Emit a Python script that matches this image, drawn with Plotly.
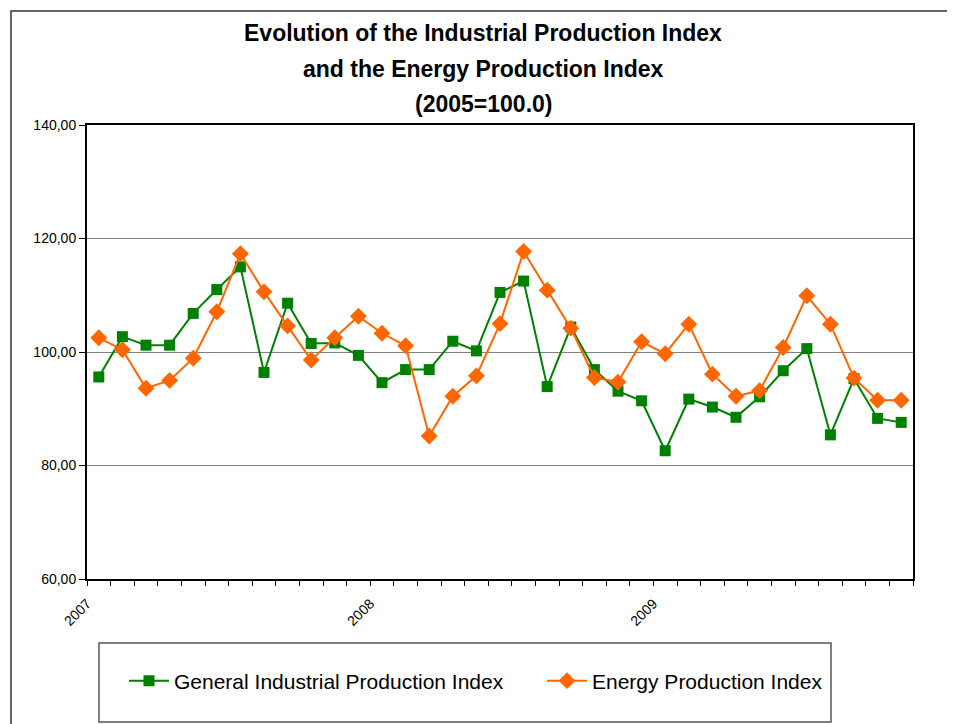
import plotly.graph_objects as go

months = [f"{y}-{m:02d}" for y in (2007, 2008, 2009) for m in range(1, 13)][:35]

general_index = [95.6, 102.7, 101.2, 101.2, 106.8, 111.0, 115.0, 96.4, 108.6, 101.5, 101.6, 99.4,
                 94.6, 96.9, 96.9, 101.9, 100.2, 110.5, 112.5, 93.9, 104.4, 96.9, 93.1, 91.4,
                 82.6, 91.7, 90.3, 88.5, 92.1, 96.7, 100.6, 85.4, 95.3, 88.3, 87.6]

energy_index = [102.5, 100.4, 93.6, 95.0, 98.9, 107.1, 117.3, 110.6, 104.6, 98.6, 102.5, 106.3,
                103.3, 101.1, 85.2, 92.2, 95.8, 105.0, 117.7, 110.9, 104.2, 95.5, 94.7, 101.8,
                99.7, 104.9, 96.1, 92.2, 93.2, 100.8, 109.9, 104.9, 95.4, 91.5, 91.5]

year_labels = ["2007", "2008", "2009"]
year_positions = [-0.5, 11.5, 23.5]

title_lines = ["Evolution of the Industrial Production Index",
               "and the Energy Production Index",
               "(2005=100.0)"]

x_idx = list(range(len(months)))

fig = go.Figure()
fig.add_trace(go.Scatter(
    x=x_idx, y=general_index, mode="lines+markers",
    name="General Industrial Production Index",
    line=dict(color="#008000", width=2),
    marker=dict(symbol="square", size=11, color="#008000"),
    customdata=months, legend="legend",
))
fig.add_trace(go.Scatter(
    x=x_idx, y=energy_index, mode="lines+markers",
    name="Energy Production Index",
    line=dict(color="#FF6600", width=2),
    marker=dict(symbol="diamond", size=13, color="#FF6600"),
    customdata=months, legend="legend2",
))

# page body has an 8px margin; work in reference-pixel coordinates and shift
OFF = 8
W, H = 955 - OFF, 724 - OFF
L, T = 87 - OFF, 125 - OFF
R = W - (913 - OFF)
B = H - (579 - OFF)
pw, ph = W - L - R, H - T - B

def px_x(px):
    return (px - OFF - L) / pw

def px_y(py):
    return (H - B - (py - OFF)) / ph

legend_common = dict(
    orientation="h", xanchor="left",
    y=px_y(681), yanchor="middle",
    font=dict(size=21, color="black"),
    bgcolor="rgba(0,0,0,0)", borderwidth=0, itemwidth=40,
)

fig.update_layout(
    width=W, height=H,
    margin=dict(l=L, r=R, t=T, b=B),
    paper_bgcolor="white", plot_bgcolor="white",
    separators=",.",
    font=dict(family="Arial, Liberation Sans, sans-serif", color="black"),
    showlegend=True,
    legend=dict(x=px_x(124), **legend_common),
    legend2=dict(x=px_x(542), **legend_common),
    xaxis=dict(
        range=[-0.5, len(months) - 0.5],
        tickmode="array", tickvals=year_positions, ticktext=year_labels,
        tickangle=-45, ticks="outside", ticklen=5, tickcolor="black",
        tickfont=dict(size=14), ticklabelstandoff=4,
        minor=dict(tickmode="linear", tick0=-0.5, dtick=1, ticks="outside", ticklen=5, tickcolor="black"),
        showgrid=False, zeroline=False,
        showline=True, linecolor="black", linewidth=2, mirror=True,
    ),
    yaxis=dict(
        range=[60, 140], dtick=20, tick0=60, tickformat=".2f",
        ticks="outside", ticklen=6, tickcolor="black",
        tickfont=dict(size=14),
        showgrid=True, gridcolor="#808080", gridwidth=1,
        zeroline=False,
        showline=True, linecolor="black", linewidth=2, mirror=True,
    ),
)

# Title lines
for text, cy in zip(title_lines, [33, 69, 104]):
    fig.add_annotation(
        text=f"<b>{text}</b>", xref="paper", yref="paper",
        x=px_x(483), y=px_y(cy), xanchor="center", yanchor="middle",
        showarrow=False, font=dict(size=23, color="black"),
    )

# Outer chart border
fig.add_shape(type="rect", xref="paper", yref="paper",
              x0=px_x(11), x1=px_x(980), y0=px_y(750), y1=px_y(11),
              line=dict(color="#333333", width=1.5), fillcolor="rgba(0,0,0,0)", layer="below")
# Legend box
fig.add_shape(type="rect", xref="paper", yref="paper",
              x0=px_x(99), x1=px_x(831), y0=px_y(722), y1=px_y(643),
              line=dict(color="#555555", width=1.5), fillcolor="rgba(0,0,0,0)", layer="below")

fig.write_html("out.html")
